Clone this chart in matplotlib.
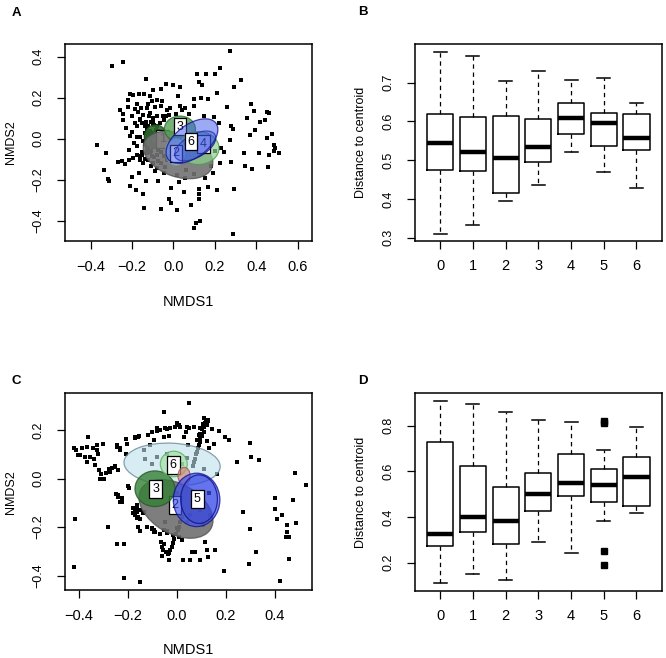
import matplotlib
matplotlib.use('Agg')
import matplotlib.pyplot as plt
from matplotlib.patches import Ellipse

plt.rcParams['font.family'] = ['Liberation Sans', 'DejaVu Sans']
NARROW = ['Liberation Sans Narrow', 'Liberation Sans', 'DejaVu Sans']

# ---------------- Panel A scatter (NMDS1, NMDS2) ----------------
a_x = [0.274, -0.242, -0.298, -0.134, 0.226, 0.113, 0.158, 0.202, 0.326, -0.037, 0.000, 0.032, 0.121, 0.137,
       -0.061, -0.097, 0.290, -0.210, -0.194, -0.165, -0.142, -0.113, 0.024, 0.210, 0.097, 0.169, -0.218,
       -0.177, -0.105, -0.056, 0.032, 0.258, 0.374, -0.258, -0.221, -0.185, -0.129, -0.089, -0.016, 0.040,
       0.452, 0.460, 0.387, -0.242, -0.202, -0.145, -0.113, -0.081, -0.053, 0.145, 0.194, 0.355, 0.419, 0.444,
       -0.242, -0.161, -0.134, -0.097, 0.218, 0.279, 0.287, -0.229, -0.177, -0.121, -0.126, -0.105, 0.395,
       0.476, 0.371, -0.368, -0.210, -0.161, -0.129, -0.121, 0.452, 0.274, 0.484, 0.489, 0.484, 0.508, 0.415,
       0.229, 0.242, -0.326, -0.177, -0.153, -0.174, -0.129, -0.105, -0.081, -0.161, -0.194, -0.145, 0.339,
       0.460, -0.266, -0.250, -0.234, -0.213, -0.121, -0.097, -0.073, -0.040, 0.226, 0.279, 0.347, 0.379, 0.455,
       -0.335, -0.315, -0.311, -0.202, -0.165, -0.089, -0.048, 0.016, 0.189, -0.210, -0.181, -0.134, -0.073,
       0.027, 0.056, -0.013, 0.052, 0.124, 0.165, 0.210, 0.290, 0.124, -0.145, -0.021, -0.013, 0.084, 0.124,
       -0.142, -0.060, 0.016, 0.129, 0.108, 0.097, 0.287, -0.129, -0.113, -0.097, -0.081, -0.073, -0.065,
       -0.048, -0.037, -0.024, -0.105, -0.089, -0.077, -0.061, -0.048, -0.032, -0.021, -0.121, -0.137, -0.113,
       -0.140, -0.118, -0.100, -0.085, -0.070, -0.110, -0.095, -0.060, -0.030, -0.150, -0.135,
       -0.160, -0.150, -0.140, -0.130, -0.125, -0.135, -0.145, -0.140, -0.130, -0.115, -0.100, -0.110, -0.095,
       -0.085, -0.100, -0.120, -0.170, -0.185, -0.200, -0.175, -0.190, -0.215, -0.160, -0.140, -0.110, -0.080,
       -0.060, -0.030, -0.060, -0.080, 0.010, 0.055, 0.075, 0.100, 0.135, 0.060, 0.100, 0.150, 0.180, 0.200,
       -0.155, -0.125]
a_y = [0.425, 0.373, 0.355, 0.290, 0.344, 0.316, 0.316, 0.316, 0.284, 0.267, 0.263, 0.251, 0.274, 0.263,
       0.241, 0.238, 0.251, 0.217, 0.212, 0.217, 0.217, 0.206, 0.206, 0.222, 0.193, 0.194, 0.190,
       0.170, 0.182, 0.182, 0.160, 0.157, 0.170, 0.141, 0.154, 0.144, 0.149, 0.157, 0.149, 0.141,
       0.128, 0.125, 0.133, 0.122, 0.113, 0.117, 0.125, 0.109, 0.112, 0.109, 0.105, 0.100, 0.084, 0.089,
       0.089, 0.096, 0.084, 0.092, 0.076, 0.063, 0.047, 0.052, 0.060, 0.060, 0.036, 0.028, 0.041,
       0.023, 0.019, -0.029, 0.015, 0.011, 0.008, -0.005, 0.003, -0.005, -0.029, -0.045, -0.061, -0.070, -0.070,
       -0.045, -0.062, -0.070, -0.037, -0.062, -0.078, -0.070, -0.083, -0.078, -0.102, -0.094, -0.118, -0.070,
       -0.078, -0.115, -0.110, -0.122, -0.102, -0.102, -0.118, -0.110, -0.135, -0.118, -0.113, -0.131, -0.147, -0.135,
       -0.154, -0.196, -0.204, -0.186, -0.167, -0.159, -0.167, -0.175, -0.167, -0.229, -0.248, -0.204, -0.207,
       -0.211, -0.191, -0.237, -0.259, -0.243, -0.232, -0.248, -0.245, -0.267, -0.267, -0.293, -0.313, -0.321, -0.292,
       -0.337, -0.342, -0.345, -0.399, -0.410, -0.436, -0.462, 0.052, 0.036, 0.015, 0.060, 0.036, 0.076,
       0.092, 0.109, 0.117, -0.021, -0.037, -0.053, -0.062, -0.086, -0.102, -0.086, -0.045, -0.021, -0.005,
       0.030, 0.010, 0.070, 0.045, 0.020, -0.060, -0.090, -0.030, 0.000, -0.080, 0.000,
       0.090, 0.075, 0.060, 0.045, 0.025, 0.010, -0.010, -0.030, -0.050, -0.065, -0.040, 0.080, 0.065,
       0.045, 0.100, 0.110, 0.130, 0.075, 0.035, 0.010, -0.020, -0.055, -0.085, -0.100, -0.130, -0.140,
       -0.120, 0.140, 0.160, 0.190, 0.120, 0.150, 0.120, 0.160, 0.200, -0.150, -0.170, -0.190, -0.130, -0.060,
       0.150, 0.170]

# ---------------- Panel C scatter ----------------
c_x = [0.048, -0.052, 0.120, 0.126, 0.115, 0.123, 0.109, 0.102, 0.112, 0.095, 0.102, 0.093, 0.095, 0.089,
       0.085, 0.082, 0.079, 0.075, 0.071, 0.020, 0.014, 0.010, 0.003, -0.003, -0.011, -0.016, -0.020, -0.027,
       -0.031, -0.038, -0.044, -0.207, -0.171, -0.157, -0.102, -0.082, -0.068, -0.041, 0.000, 0.014, 0.041,
       0.068, 0.093, 0.143, 0.171, 0.194, 0.211, -0.205, -0.136, -0.109, -0.093, -0.055, -0.034, 0.027, 0.044,
       0.150, 0.123, 0.130, -0.420, -0.412, -0.402, -0.375, -0.362, -0.366, -0.357, -0.337, -0.341, -0.327,
       -0.321, -0.303, -0.327, -0.389, -0.396, -0.366, -0.334, -0.317, -0.311, -0.314, -0.297, -0.289, -0.276,
       -0.266, -0.252, -0.246, -0.232, -0.209, -0.273, -0.239, -0.201, -0.194, -0.248, -0.239, -0.225, -0.232,
       -0.171, -0.164, -0.171, -0.161, -0.150, -0.136, -0.123, -0.102, -0.093, -0.095, -0.071, -0.065, -0.055,
       -0.063, -0.059, -0.060, -0.034, 0.025, 0.052, 0.061, 0.075, 0.093, 0.116, 0.123, 0.126, 0.157, -0.218,
       -0.246, -0.280, -0.417, -0.420, -0.216, -0.150, 0.191, 0.293, 0.300, 0.321, 0.303, 0.300, 0.334, 0.246,
       0.398, 0.402, 0.409, 0.430, 0.447, 0.450, 0.445, 0.457, 0.475, 0.484, 0.482, 0.525, 0.457, 0.420, 0.269,
       -0.040, -0.005, 0.020, 0.040, 0.065, 0.110, 0.165, -0.080, -0.100, -0.130, -0.165, -0.165, -0.180,
       -0.160, -0.150, 0.080, 0.095, 0.055, 0.040, 0.105, 0.130, 0.135, -0.050, -0.040, 0.000,
       -0.171, -0.160, -0.120, -0.083, -0.070, -0.050, -0.030, -0.010, 0.010, 0.035, 0.050, -0.246, -0.232,
       -0.253, -0.240, -0.226, -0.178, -0.172, -0.165, -0.150, -0.137, -0.103, -0.090, -0.055, -0.041, -0.015,
       0.000, 0.007, 0.020, 0.110, 0.118, 0.105, 0.128, 0.090, 0.080]
c_y = [0.313, 0.273, 0.238, 0.243, 0.229, 0.220, 0.213, 0.202, 0.192, 0.185, 0.174, 0.165, 0.151, 0.137,
       0.124, 0.110, 0.100, 0.082, 0.069, -0.158, -0.179, -0.199, -0.213, -0.229, -0.247, -0.265, -0.282, -0.295,
       -0.306, -0.312, -0.302, 0.161, 0.169, 0.174, 0.192, 0.196, 0.199, 0.206, 0.229, 0.213, 0.213,
       0.213, 0.210, 0.202, 0.196, 0.169, 0.158, 0.144, 0.117, 0.137, 0.158, 0.172, 0.174, 0.172, 0.137,
       0.144, 0.155, 0.124, 0.124, 0.117, 0.096, 0.089, 0.172, 0.130, 0.089, 0.082, 0.124, 0.117,
       0.100, 0.144, 0.137, 0.124, 0.096, 0.069, 0.055, 0.034, 0.018, 0.000, 0.000, 0.021, 0.041,
       0.045, 0.051, 0.130, 0.117, 0.103, 0.027, 0.034, -0.032, -0.041, -0.065, -0.076, -0.082, -0.096,
       -0.124, -0.137, -0.151, -0.158, -0.165, -0.137, -0.199, -0.206, -0.213, -0.220, -0.227, -0.261, -0.268,
       -0.282, -0.295, -0.320, -0.337, -0.337, -0.334, -0.302, -0.302, -0.337, -0.261, -0.295, -0.323, -0.293, -0.268,
       -0.271, -0.199, -0.165, -0.364, -0.408, -0.426, -0.382, -0.350, -0.206, -0.302, 0.087, 0.147, 0.076, 0.069,
       -0.082, -0.124, -0.165, -0.151, -0.192, -0.220, -0.240, -0.240, -0.089, -0.183, 0.023, -0.027, -0.330, -0.423, -0.137,
       0.100, 0.070, 0.060, 0.085, 0.050, 0.040, 0.020, 0.090, 0.060, 0.080, -0.110, -0.125, -0.140,
       -0.200, -0.215, -0.110, -0.130, -0.150, -0.180, -0.190, -0.060, -0.150, -0.180, -0.215, -0.060,
       0.166, 0.172, 0.180, 0.207, 0.200, 0.207, 0.207, 0.214, 0.220, 0.193, 0.207, 0.138, 0.124,
       0.049, -0.068, -0.096, -0.122, -0.143, -0.164, -0.130, -0.143, -0.205, -0.219, -0.212, -0.226, -0.232,
       -0.205, -0.240, -0.253, 0.250, 0.232, 0.225, 0.236, 0.180, 0.160]

# ---------------- Ellipses: centre, width, height, angle, fill, edge, alpha and group label ----------------
a_ell_x = [-0.086, 0.022, 0.031, 0.120, 0.012, 0.105, 0.089]
a_ell_y = [0.010, -0.079, 0.048, -0.045, -0.063, -0.035, -0.011]
a_ell_w = [0.110, 0.35, 0.150, 0.20, 0.100, 0.22, 0.290]
a_ell_h = [0.115, 0.21, 0.125, 0.16, 0.130, 0.11, 0.160]
a_ell_ang = [0, -20, 0, 0, 0, 30, 37]
a_ell_col = ['#2e6b2e', '#727272', '#55a055', '#8fd48f', '#b5dcea', '#2a40d0', '#3a56e8']
a_ell_edge = ['#1f4f1f', '#505050', '#2f6f2f', '#4f9a4f', '#7aa0b0', '#10108a', '#14148f']
a_ell_alpha = [0.9, 0.9, 0.8, 0.7, 0.65, 0.35, 0.5]
a_lab_txt = ['1', '', '3', '4', '2', '', '6']
a_lab_x = [-0.054, 0, 0.031, 0.144, 0.011, 0, 0.085]
a_lab_y = [-0.001, 0, 0.059, -0.025, -0.071, 0, -0.014]

c_ell_x = [-0.020, -0.004, -0.090, -0.013, 0.029, 0.080, 0.090]
c_ell_y = [0.058, -0.125, -0.042, 0.060, 0.011, -0.088, -0.085]
c_ell_w = [0.393, 0.328, 0.163, 0.110, 0.050, 0.190, 0.150]
c_ell_h = [0.175, 0.205, 0.147, 0.105, 0.070, 0.220, 0.200]
c_ell_ang = [-3, -30, 0, 0, 0, 0, 0]
c_ell_col = ['#bfe0ec', '#707070', '#357f35', '#9ee29e', '#d08a80', '#3a4ff0', '#2a3ad8']
c_ell_edge = ['#6a8a98', '#505050', '#245a24', '#5fae5f', '#a05a50', '#14148f', '#10108a']
c_ell_alpha = [0.6, 0.9, 0.8, 0.65, 0.7, 0.65, 0.3]
c_lab_txt = ['', '2', '3', '6', '', '', '5']
c_lab_x = [0, -0.008, -0.087, -0.015, 0, 0, 0.083]
c_lab_y = [0, -0.109, -0.044, 0.056, 0, 0, -0.084]

# ---------------- Boxplot statistics ----------------
groups = ['0', '1', '2', '3', '4', '5', '6']
b_whislo = [0.309, 0.333, 0.395, 0.436, 0.522, 0.470, 0.429]
b_q1 = [0.475, 0.473, 0.416, 0.496, 0.568, 0.537, 0.526]
b_med = [0.543, 0.522, 0.505, 0.535, 0.608, 0.595, 0.558]
b_q3 = [0.619, 0.611, 0.614, 0.606, 0.647, 0.621, 0.618]
b_whishi = [0.780, 0.769, 0.703, 0.730, 0.707, 0.711, 0.647]
b_fliers = [[], [], [], [], [], [], []]

d_whislo = [0.109, 0.150, 0.124, 0.289, 0.244, 0.382, 0.419]
d_q1 = [0.273, 0.333, 0.282, 0.428, 0.493, 0.464, 0.448]
d_med = [0.326, 0.399, 0.382, 0.499, 0.547, 0.540, 0.577]
d_q3 = [0.727, 0.623, 0.530, 0.591, 0.674, 0.609, 0.664]
d_whishi = [0.908, 0.893, 0.861, 0.825, 0.815, 0.693, 0.793]
d_fliers = [[], [], [], [], [], [0.822, 0.810, 0.251, 0.190], []]

W, H = 666, 658
fig = plt.figure(figsize=(W / 100, H / 100), dpi=100)


def add_ax(l, t, r, b):
    return fig.add_axes([l / W, 1 - b / H, (r - l) / W, (b - t) / H])


axA = add_ax(65, 44, 312, 241)
axB = add_ax(414.7, 44.3, 662, 240.7)
axC = add_ax(65, 393.3, 312, 590)
axD = add_ax(414.7, 393.3, 662, 590.7)


def rstyle(ax):
    for s in ax.spines.values():
        s.set_linewidth(1.1)
        s.set_color('black')
    ax.tick_params(direction='out', length=6, width=0.9, colors='black')
    ax.tick_params(axis='x', pad=7.5)
    ax.tick_params(axis='y', pad=8.5, labelrotation=90, labelsize=9)
    for lab in ax.get_yticklabels():
        lab.set_va('center')
    for lab in ax.get_xticklabels():
        lab.set_fontfamily(NARROW)
        lab.set_fontsize(10.5)


def ordination(ax, xs, ys, ex, ey, ew, eh, ea, ec, ee, eal, lt, lx, ly, xlim, ylim, xticks, yticks):
    ax.scatter(xs, ys, s=5, marker='s', c='black', linewidths=0, zorder=1)
    z = 2
    for i in range(len(ex)):
        ax.add_patch(Ellipse((ex[i], ey[i]), ew[i], eh[i], angle=ea[i], facecolor=ec[i], alpha=eal[i],
                             edgecolor='none', zorder=z))
        ax.add_patch(Ellipse((ex[i], ey[i]), ew[i], eh[i], angle=ea[i], facecolor='none',
                             edgecolor=ee[i], lw=0.9, alpha=0.8, zorder=z + 0.1))
        z += 1
        if lt[i]:
            ax.text(lx[i], ly[i], lt[i], ha='center', va='center', fontsize=9, zorder=z,
                    bbox=dict(boxstyle='square,pad=0.22', fc='white', ec='black', lw=0.9))
            z += 1
    ax.set_xlim(*xlim)
    ax.set_ylim(*ylim)
    ax.set_xticks(xticks)
    ax.set_yticks(yticks)
    rstyle(ax)
    ax.set_xlabel('NMDS1', fontsize=10.5, family=NARROW, va='top')
    ax.set_ylabel('NMDS2', fontsize=9)


ordination(axA, a_x, a_y, a_ell_x, a_ell_y, a_ell_w, a_ell_h, a_ell_ang, a_ell_col, a_ell_edge, a_ell_alpha,
           a_lab_txt, a_lab_x, a_lab_y, (-0.524, 0.669), (-0.497, 0.461),
           [-0.4, -0.2, 0.0, 0.2, 0.4, 0.6], [-0.4, -0.2, 0.0, 0.2, 0.4])
axA.xaxis.set_label_coords(0.5, -0.274)
axA.yaxis.set_label_coords(-0.196, 0.5)

ordination(axC, c_x, c_y, c_ell_x, c_ell_y, c_ell_w, c_ell_h, c_ell_ang, c_ell_col, c_ell_edge, c_ell_alpha,
           c_lab_txt, c_lab_x, c_lab_y, (-0.457, 0.551), (-0.459, 0.351),
           [-0.4, -0.2, 0.0, 0.2, 0.4], [-0.4, -0.2, 0.0, 0.2])
axC.xaxis.set_label_coords(0.5, -0.271)
axC.yaxis.set_label_coords(-0.196, 0.5)


def boxes(ax, lo, q1, med, q3, hi, fl, ylim, yticks):
    stats = [dict(whislo=lo[i], q1=q1[i], med=med[i], q3=q3[i], whishi=hi[i], fliers=fl[i])
             for i in range(len(groups))]
    ax.bxp(stats, positions=list(range(len(groups))), widths=0.8, showfliers=True,
           boxprops=dict(lw=1.1, color='black'),
           medianprops=dict(color='black', lw=3.2, solid_capstyle='butt'),
           whiskerprops=dict(color='black', lw=0.9, ls=(0, (3.5, 3))),
           capprops=dict(color='black', lw=1.1),
           flierprops=dict(marker='s', mfc='black', mec='black', ms=4.5))
    ax.set_xlim(-0.78, 6.78)
    ax.set_ylim(*ylim)
    ax.set_xticks(list(range(len(groups))))
    ax.set_xticklabels(groups)
    ax.set_yticks(yticks)
    rstyle(ax)
    ax.set_ylabel('Distance to centroid', fontsize=9)
    ax.yaxis.set_label_coords(-0.192, 0.5)


boxes(axB, b_whislo, b_q1, b_med, b_q3, b_whishi, b_fliers, (0.292, 0.799), [0.3, 0.4, 0.5, 0.6, 0.7])
boxes(axD, d_whislo, d_q1, d_med, d_q3, d_whishi, d_fliers, (0.077, 0.942), [0.2, 0.4, 0.6, 0.8])

for txt, px, py in [('A', 16.5, 12.5), ('B', 363, 12), ('C', 16, 381.5), ('D', 363, 381.5)]:
    fig.text(px / W, 1 - py / H, txt, fontsize=9.5, fontweight='bold', ha='center', va='center')

fig.savefig('out.png', dpi=100)
